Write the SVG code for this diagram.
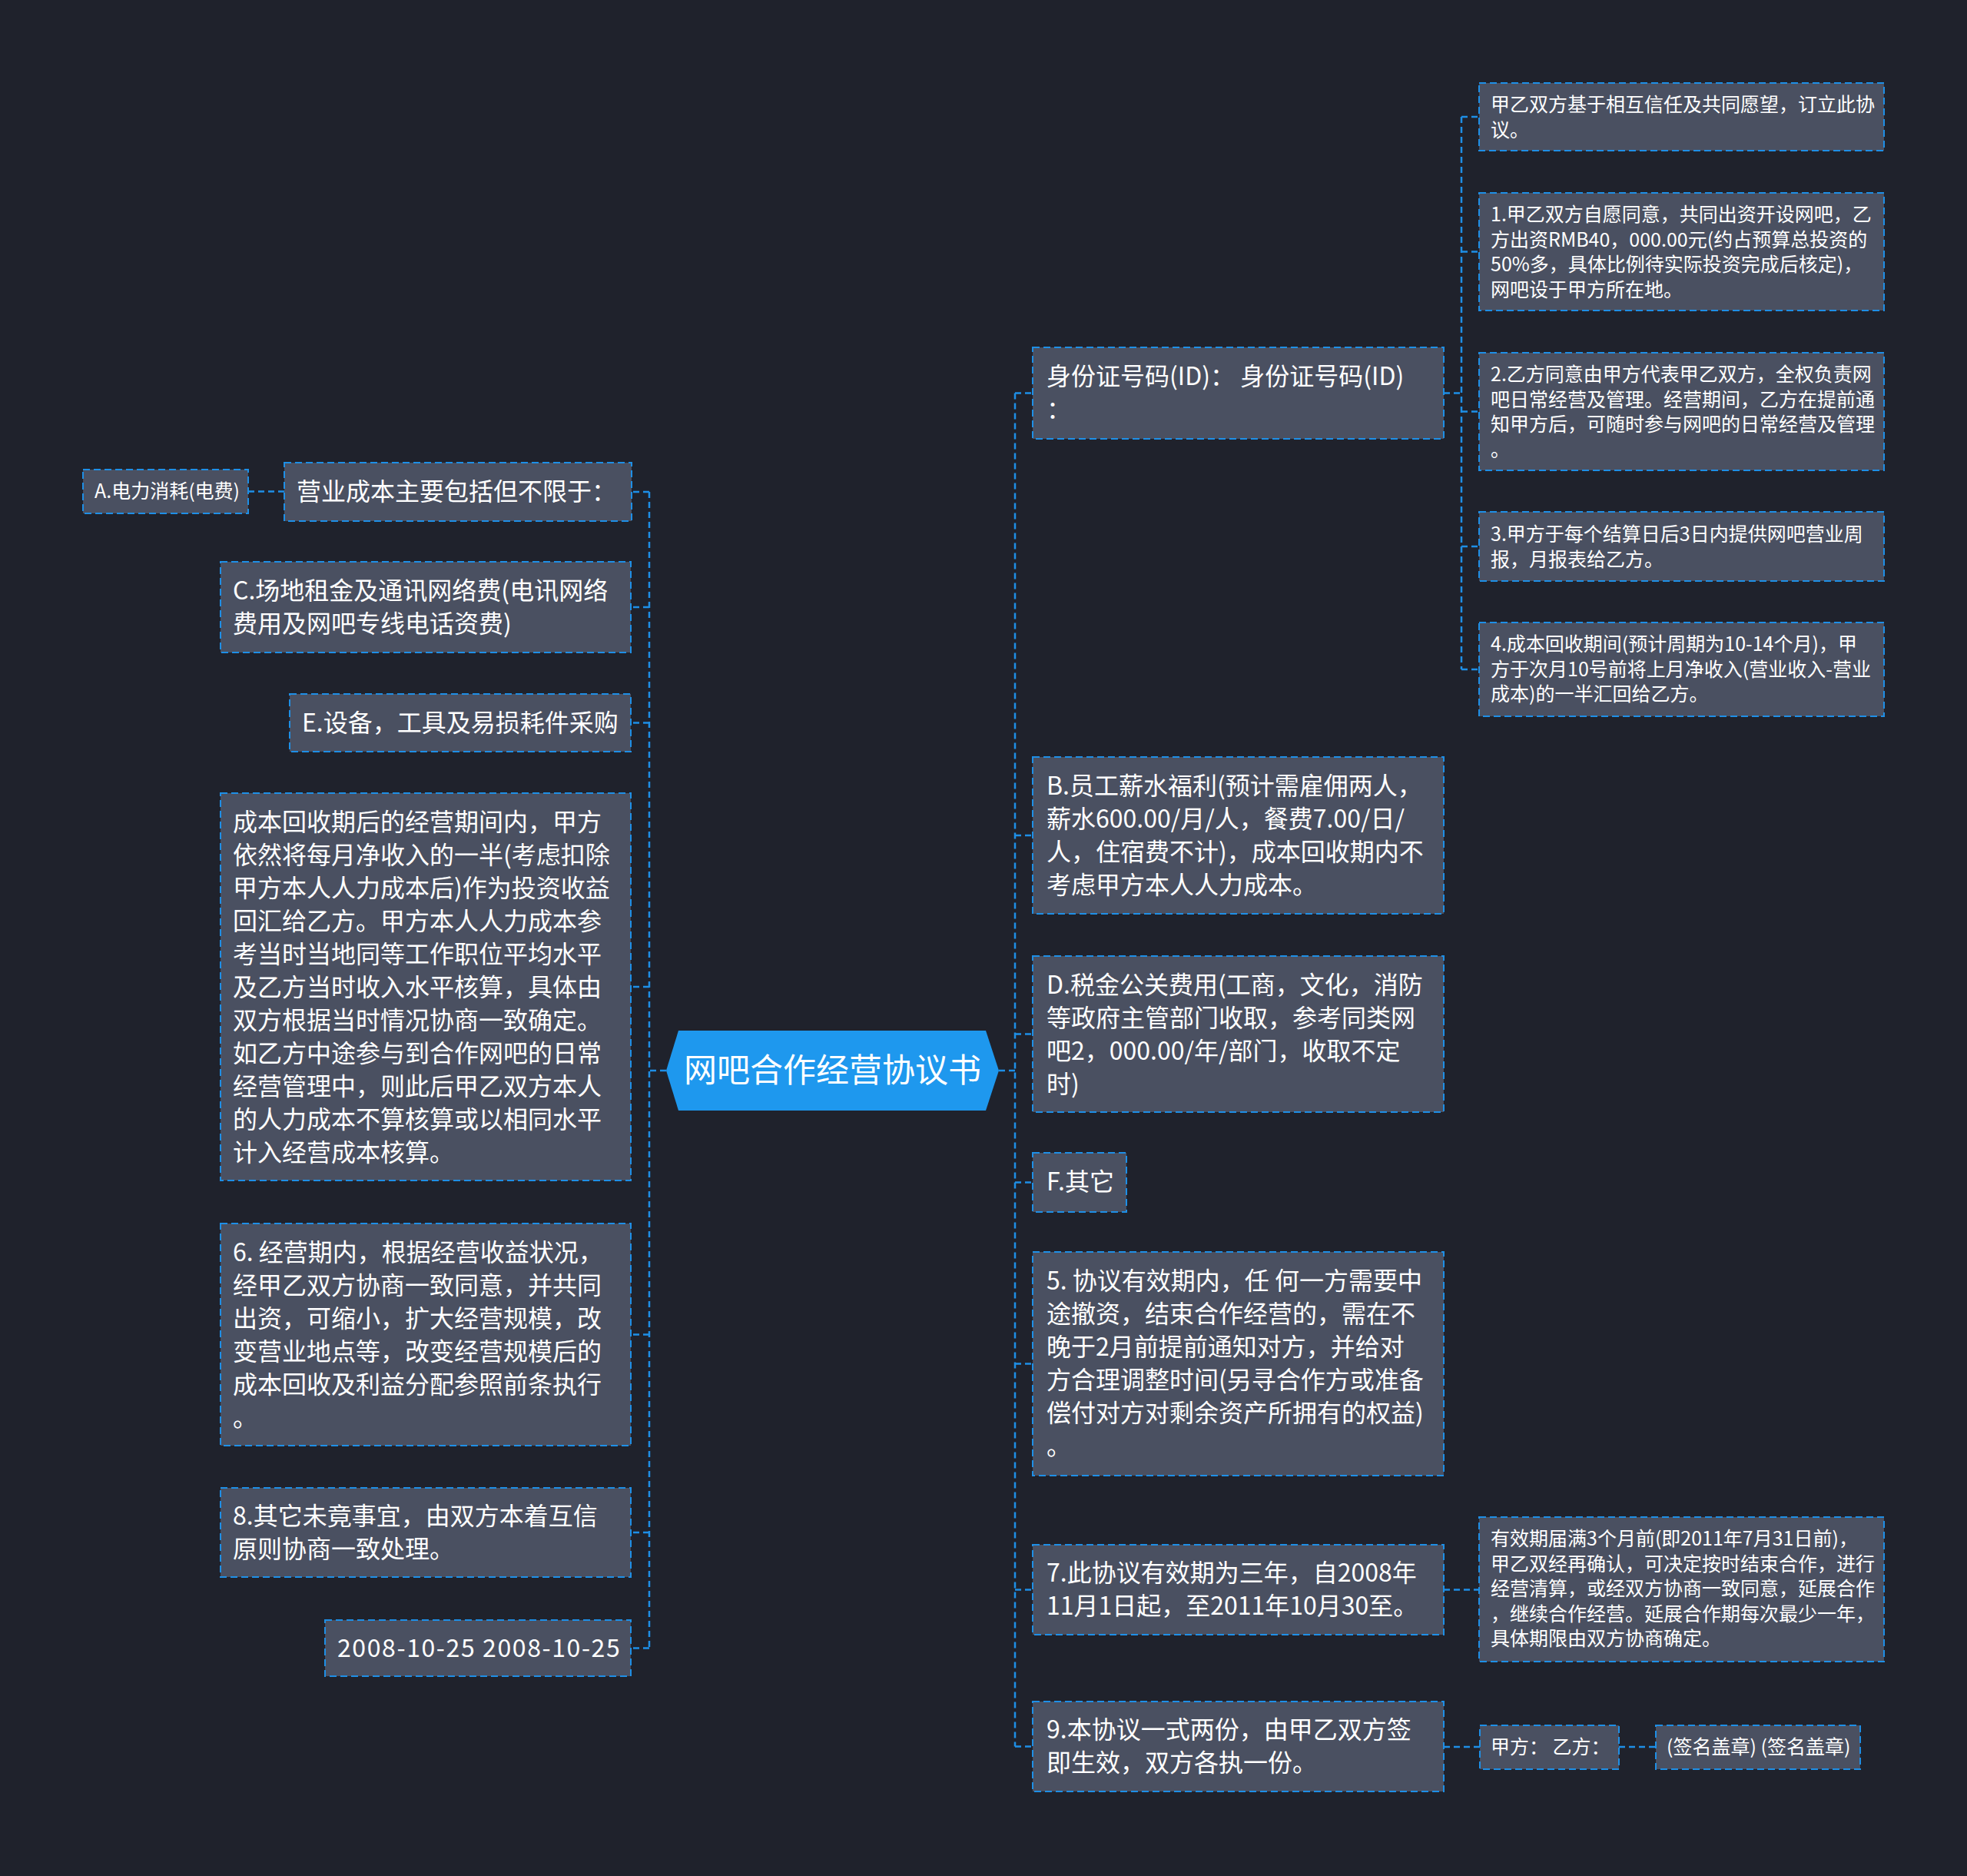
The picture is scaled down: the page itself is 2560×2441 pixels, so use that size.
<svg xmlns="http://www.w3.org/2000/svg" width="2560" height="2441" viewBox="0 0 2560 2441">
<style>
.bg{fill:#1f222c}
.box{fill:#4a5061;stroke:#1e8fe6;stroke-width:2;stroke-dasharray:9 5}
.t{font-family:"Noto Sans CJK SC","Noto Sans",sans-serif;font-size:32px;fill:#ffffff}
.s{font-family:"Noto Sans CJK SC","Noto Sans",sans-serif;font-size:25px;fill:#ffffff}
.title{font-family:"Noto Sans CJK SC","Noto Sans",sans-serif;font-size:43px;fill:#ffffff;text-anchor:middle}
.c{fill:none;stroke:#1e8fe6;stroke-width:2.5;stroke-dasharray:8 5}
</style>
<rect class="bg" x="0" y="0" width="2560" height="2441"/>
<g id="connectors">
<path class="c" d="M867 1393H845M845 640V2144.5M845 640H822M845 790H821M845 940.5H821M845 1284H821M845 1736.5H821M845 1994H821M845 2144.5H821"/>
<path class="c" d="M370 639.5H323"/>
<path class="c" d="M1300 1393H1321M1321 511.5V2272.5M1321 511.5H1344M1321 1087H1344M1321 1345.5H1344M1321 1538.5H1344M1321 1774.5H1344M1321 2068.5H1344M1321 2272.5H1344"/>
<path class="c" d="M1879 511.5H1902M1902 152V871M1902 152H1925M1902 327.5H1925M1902 535.5H1925M1902 711H1925M1902 871H1925"/>
<path class="c" d="M1879 2068.5H1925M1879 2273H1926M2107 2273H2155"/>
</g>
<g id="center">
<polygon points="883,1341 1283,1341 1300,1393 1283,1445 883,1445 867,1393" fill="#1e98ee"/>
<text class="title" x="1083.5" y="1408">网吧合作经营协议书</text>
</g>
<g id="n-id">
<rect class="box" x="1344" y="452" width="535" height="119"/>
<text class="t" x="1362" y="500.5">身份证号码(ID)： 身份证号码(ID)</text>
<text class="t" x="1362" y="543.5">：</text>
</g>
<g id="n-b">
<rect class="box" x="1344" y="985" width="535" height="204"/>
<text class="t" x="1362" y="1033.5">B.员工薪水福利(预计需雇佣两人，</text>
<text class="t" x="1362" y="1076.5">薪水600.00/月/人，餐费7.00/日/</text>
<text class="t" x="1362" y="1119.5">人，住宿费不计)，成本回收期内不</text>
<text class="t" x="1362" y="1162.5">考虑甲方本人人力成本。</text>
</g>
<g id="n-d">
<rect class="box" x="1344" y="1244" width="535" height="203"/>
<text class="t" x="1362" y="1292.5">D.税金公关费用(工商，文化，消防</text>
<text class="t" x="1362" y="1335.5">等政府主管部门收取，参考同类网</text>
<text class="t" x="1362" y="1378.5">吧2，000.00/年/部门，收取不定</text>
<text class="t" x="1362" y="1421.5">时)</text>
</g>
<g id="n-f">
<rect class="box" x="1344" y="1500" width="122" height="77"/>
<text class="t" x="1362" y="1549">F.其它</text>
</g>
<g id="n-5">
<rect class="box" x="1344" y="1629" width="535" height="291"/>
<text class="t" x="1362" y="1677.5">5. 协议有效期内，任 何一方需要中</text>
<text class="t" x="1362" y="1720.5">途撤资，结束合作经营的，需在不</text>
<text class="t" x="1362" y="1763.5">晚于2月前提前通知对方，并给对</text>
<text class="t" x="1362" y="1806.5">方合理调整时间(另寻合作方或准备</text>
<text class="t" x="1362" y="1849.5">偿付对方对剩余资产所拥有的权益)</text>
<text class="t" x="1362" y="1892.5">。</text>
</g>
<g id="n-7">
<rect class="box" x="1344" y="2010" width="535" height="117"/>
<text class="t" x="1362" y="2058">7.此协议有效期为三年，自2008年</text>
<text class="t" x="1362" y="2101">11月1日起，至2011年10月30至。</text>
</g>
<g id="n-9">
<rect class="box" x="1344" y="2214" width="535" height="117"/>
<text class="t" x="1362" y="2262">9.本协议一式两份，由甲乙双方签</text>
<text class="t" x="1362" y="2305">即生效，双方各执一份。</text>
</g>
<g id="n-r0">
<rect class="box" x="1925" y="108" width="527" height="88"/>
<text class="s" x="1940" y="145">甲乙双方基于相互信任及共同愿望，订立此协</text>
<text class="s" x="1940" y="177.6">议。</text>
</g>
<g id="n-r1">
<rect class="box" x="1925" y="251" width="527" height="153"/>
<text class="s" x="1940" y="288">1.甲乙双方自愿同意，共同出资开设网吧，乙</text>
<text class="s" x="1940" y="320.6">方出资RMB40，000.00元(约占预算总投资的</text>
<text class="s" x="1940" y="353.2">50%多，具体比例待实际投资完成后核定)，</text>
<text class="s" x="1940" y="385.8">网吧设于甲方所在地。</text>
</g>
<g id="n-r2">
<rect class="box" x="1925" y="459" width="527" height="153"/>
<text class="s" x="1940" y="496">2.乙方同意由甲方代表甲乙双方，全权负责网</text>
<text class="s" x="1940" y="528.6">吧日常经营及管理。经营期间，乙方在提前通</text>
<text class="s" x="1940" y="561.2">知甲方后，可随时参与网吧的日常经营及管理</text>
<text class="s" x="1940" y="593.8">。</text>
</g>
<g id="n-r3">
<rect class="box" x="1925" y="666" width="527" height="90"/>
<text class="s" x="1940" y="704">3.甲方于每个结算日后3日内提供网吧营业周</text>
<text class="s" x="1940" y="736.6">报，月报表给乙方。</text>
</g>
<g id="n-r4">
<rect class="box" x="1925" y="810" width="527" height="122"/>
<text class="s" x="1940" y="847">4.成本回收期间(预计周期为10-14个月)，甲</text>
<text class="s" x="1940" y="879.6">方于次月10号前将上月净收入(营业收入-营业</text>
<text class="s" x="1940" y="912.2">成本)的一半汇回给乙方。</text>
</g>
<g id="n-r7">
<rect class="box" x="1925" y="1974" width="527" height="188"/>
<text class="s" x="1940" y="2011">有效期届满3个月前(即2011年7月31日前)，</text>
<text class="s" x="1940" y="2043.6">甲乙双经再确认，可决定按时结束合作，进行</text>
<text class="s" x="1940" y="2076.2">经营清算，或经双方协商一致同意，延展合作</text>
<text class="s" x="1940" y="2108.8">，继续合作经营。延展合作期每次最少一年，</text>
<text class="s" x="1940" y="2141.4">具体期限由双方协商确定。</text>
</g>
<g id="n-sign1">
<rect class="box" x="1926" y="2245" width="181" height="57"/>
<text class="s" x="1940" y="2282">甲方：  乙方：</text>
</g>
<g id="n-sign2">
<rect class="box" x="2155" y="2245" width="266" height="57"/>
<text class="s" x="2169" y="2282">(签名盖章) (签名盖章)</text>
</g>
<g id="n-a">
<rect class="box" x="108" y="611" width="215" height="57"/>
<text class="s" x="123" y="648">A.电力消耗(电费)</text>
</g>
<g id="n-cost">
<rect class="box" x="370" y="602" width="452" height="76"/>
<text class="t" x="386" y="651">营业成本主要包括但不限于：</text>
</g>
<g id="n-c">
<rect class="box" x="287" y="731" width="534" height="118"/>
<text class="t" x="303" y="779.5">C.场地租金及通讯网络费(电讯网络</text>
<text class="t" x="303" y="822.5">费用及网吧专线电话资费)</text>
</g>
<g id="n-e">
<rect class="box" x="377" y="903" width="444" height="75"/>
<text class="t" x="393" y="951.5">E.设备，工具及易损耗件采购</text>
</g>
<g id="n-after">
<rect class="box" x="287" y="1032" width="534" height="504"/>
<text class="t" x="303" y="1080.5">成本回收期后的经营期间内，甲方</text>
<text class="t" x="303" y="1123.5">依然将每月净收入的一半(考虑扣除</text>
<text class="t" x="303" y="1166.5">甲方本人人力成本后)作为投资收益</text>
<text class="t" x="303" y="1209.5">回汇给乙方。甲方本人人力成本参</text>
<text class="t" x="303" y="1252.5">考当时当地同等工作职位平均水平</text>
<text class="t" x="303" y="1295.5">及乙方当时收入水平核算，具体由</text>
<text class="t" x="303" y="1338.5">双方根据当时情况协商一致确定。</text>
<text class="t" x="303" y="1381.5">如乙方中途参与到合作网吧的日常</text>
<text class="t" x="303" y="1424.5">经营管理中，则此后甲乙双方本人</text>
<text class="t" x="303" y="1467.5">的人力成本不算核算或以相同水平</text>
<text class="t" x="303" y="1510.5">计入经营成本核算。</text>
</g>
<g id="n-6">
<rect class="box" x="287" y="1592" width="534" height="289"/>
<text class="t" x="303" y="1640.5">6. 经营期内，根据经营收益状况，</text>
<text class="t" x="303" y="1683.5">经甲乙双方协商一致同意，并共同</text>
<text class="t" x="303" y="1726.5">出资，可缩小，扩大经营规模，改</text>
<text class="t" x="303" y="1769.5">变营业地点等，改变经营规模后的</text>
<text class="t" x="303" y="1812.5">成本回收及利益分配参照前条执行</text>
<text class="t" x="303" y="1855.5">。</text>
</g>
<g id="n-8">
<rect class="box" x="287" y="1936" width="534" height="116"/>
<text class="t" x="303" y="1984">8.其它未竟事宜，由双方本着互信</text>
<text class="t" x="303" y="2027">原则协商一致处理。</text>
</g>
<g id="n-date">
<rect class="box" x="423" y="2108" width="398" height="73"/>
<text class="t" x="439" y="2155.5" letter-spacing="1.6">2008-10-25 2008-10-25</text>
</g>
</svg>
